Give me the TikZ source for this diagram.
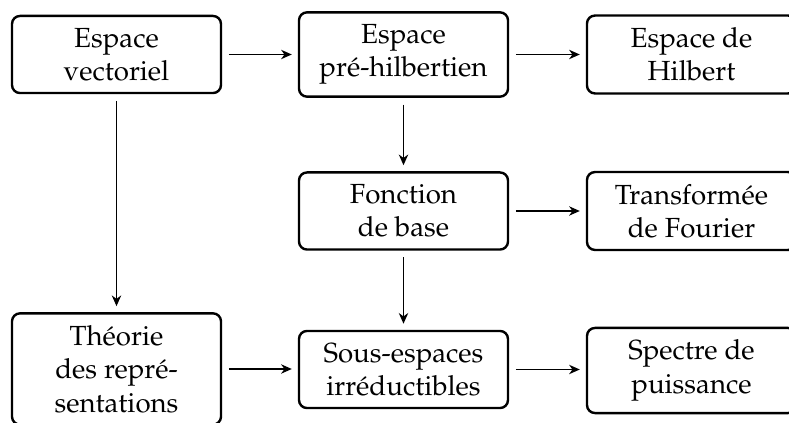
\documentclass[tikz,border=0pt]{standalone}
\usepackage[T1]{fontenc}
\usepackage{mathpazo}
\usetikzlibrary{arrows.meta}
\tikzset{
  box/.style={draw, line width=1.8pt, rounded corners=6pt, align=center,
    minimum width=156.75pt, inner xsep=6pt, inner ysep=9pt, font=\huge},
  conn/.style={line width=1.1pt, -{Stealth[length=8pt,width=7pt,inset=2.5pt]},
    shorten <=5pt, shorten >=4.5pt}
}
\begin{document}
\begin{tikzpicture}[x=0.75pt,y=-0.75pt]
\useasboundingbox (0,0) rectangle (789,423);
\node[box] (A) at (116.5,54.5) {Espace\\vectoriel};
\node[box] (B) at (403.5,54.5) {Espace\\pr\'e-hilbertien};
\node[box] (C) at (691.5,54.5) {Espace de\\Hilbert};
\node[box] (D) at (403.5,211) {Fonction\\de base};
\node[box] (E) at (691.5,211) {Transform\'ee\\de Fourier};
\node[box] (F) at (116.5,369) {Th\'eorie\\des repr\'e-\\sentations};
\node[box] (G) at (403.5,369.5) {Sous-espaces\\irr\'eductibles};
\node[box] (H) at (691.5,370.5) {Spectre de\\puissance};
\draw[conn] (A.east) -- (A.east -| B.west);
\draw[conn] (B.east) -- (B.east -| C.west);
\draw[conn] (A.south) -- (F.north);
\draw[conn] (B.south) -- (D.north);
\draw[conn] (D.east) -- (D.east -| E.west);
\draw[conn] (D.south) -- (G.north);
\draw[conn] (F.east) -- (F.east -| G.west);
\draw[conn] (G.east) -- (G.east -| H.west);
\end{tikzpicture}
\end{document}
